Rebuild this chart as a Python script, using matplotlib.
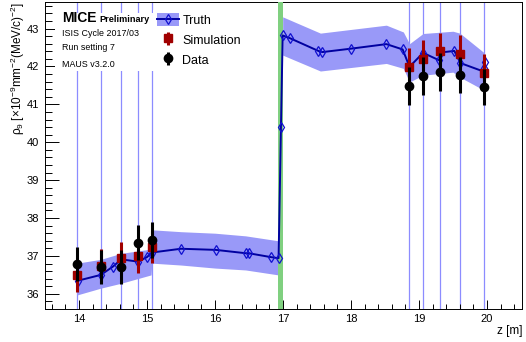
import matplotlib
matplotlib.use('Agg')
from matplotlib import pyplot as plt
from matplotlib.patches import Patch, Rectangle
from matplotlib.lines import Line2D
from matplotlib.ticker import MultipleLocator

plt.rcParams['font.family'] = ['Liberation Sans', 'DejaVu Sans']
plt.rcParams['mathtext.fontset'] = 'custom'
plt.rcParams['mathtext.rm'] = 'Liberation Sans'
plt.rcParams['mathtext.it'] = 'Liberation Sans:italic'

# truth line (MC truth at each virtual plane)
truth_z = [13.99, 14.32, 14.50, 14.62, 14.87, 15.00, 15.07, 15.50, 16.01, 16.46,
           16.50, 16.82, 16.935, 16.97, 16.995, 17.11, 17.52, 17.58, 18.00, 18.52,
           18.76, 18.86, 19.06, 19.30, 19.32, 19.52, 19.61, 19.96, 19.96, 19.97]
truth_rho = [36.35, 36.50, 36.72, 36.91, 36.85, 36.97, 37.09, 37.19, 37.16, 37.07,
             37.07, 36.97, 36.94, 40.40, 42.82, 42.74, 42.41, 42.38, 42.47, 42.59,
             42.45, 41.99, 42.36, 42.16, 42.37, 42.41, 42.09, 41.86, 41.97, 42.12]

# truth uncertainty band, upstream and downstream parts
band_up_z = [13.97, 14.32, 14.62, 15.06, 15.07, 15.50, 16.00, 16.45, 16.93]
band_up_lo = [35.97, 36.15, 36.28, 36.50, 36.81, 36.76, 36.68, 36.63, 36.50]
band_up_hi = [36.81, 36.91, 37.07, 37.18, 37.69, 37.64, 37.60, 37.53, 37.40]
band_dn_z = [16.995, 17.55, 18.52, 18.77, 18.86, 19.06, 19.50, 19.60, 19.96]
band_dn_lo = [42.30, 41.88, 42.08, 41.95, 41.59, 41.77, 41.85, 41.72, 41.37]
band_dn_hi = [43.31, 42.88, 43.09, 42.91, 42.60, 42.87, 42.93, 42.88, 42.36]

# tracker stations
station_z = [13.97, 14.32, 14.62, 14.87, 15.07, 18.86, 19.06, 19.31, 19.60, 19.96]

# measured and simulated values at the stations
data_rho = [36.78, 36.72, 36.72, 37.35, 37.42, 41.48, 41.74, 41.86, 41.77, 41.46]
data_err = [0.45, 0.45, 0.45, 0.47, 0.48, 0.50, 0.50, 0.50, 0.48, 0.48]
sim_rho = [36.50, 36.74, 36.94, 37.01, 37.23, 41.99, 42.19, 42.40, 42.34, 41.84]
sim_err = [0.45, 0.45, 0.42, 0.46, 0.42, 0.50, 0.50, 0.48, 0.50, 0.50]

absorber = (16.93, 16.995)

band_col = '#9999f8'
truth_col = '#0000a0'
sim_col = '#a00000'

fig = plt.figure(figsize=(5.26, 3.42), dpi=100)
ax = fig.add_axes([0.0856, 0.0965, 0.9068, 0.8975])

for z in station_z:
    ax.axvline(z, color='#8c8cff', lw=0.9, zorder=1)

ax.fill_between(band_up_z, band_up_lo, band_up_hi, color=band_col, lw=0, zorder=2)
ax.fill_between(band_dn_z, band_dn_lo, band_dn_hi, color=band_col, lw=0, zorder=2)
ax.axvspan(absorber[0], absorber[1], color='#80d080', lw=0, zorder=3)

ax.plot(truth_z, truth_rho, color=truth_col, lw=1.4, marker='d', ms=5.5,
        mfc='none', mec='#1010d0', mew=0.9, zorder=4)

sim = ax.errorbar(station_z, sim_rho, yerr=sim_err, fmt='s', color=sim_col,
                  ms=5.8, elinewidth=2.2, capsize=0, zorder=5)
dat = ax.errorbar(station_z, data_rho, yerr=data_err, fmt='o', color='black',
                  ms=6, elinewidth=2.2, capsize=0, zorder=6)

ax.set_xlim(13.5, 20.515)
ax.set_ylim(35.6, 43.7)

# ROOT-like axes
ax.xaxis.set_major_locator(MultipleLocator(1))
ax.xaxis.set_minor_locator(MultipleLocator(0.2))
ax.yaxis.set_major_locator(MultipleLocator(1))
ax.yaxis.set_minor_locator(MultipleLocator(0.2))
ax.tick_params(which='both', direction='in', top=False, right=False, width=0.7)
ax.tick_params(axis='x', which='major', length=6.5, labelsize=8, pad=3.5)
ax.tick_params(axis='x', which='minor', length=3.3)
ax.tick_params(axis='y', which='major', length=10, labelsize=8, pad=4.5)
ax.tick_params(axis='y', which='minor', length=5)
for s in ax.spines.values():
    s.set_linewidth(0.7)

ax.set_xlabel('z [m]', loc='right', fontsize=8.5, labelpad=1)
ax.set_ylabel('ρ$_{9}$ [×10$^{-9}$mm$^{-2}$(MeV/c)$^{-2}$]', loc='top', fontsize=8.5)
ax.yaxis.set_label_coords(-0.038, 1.0)

# white box behind the labels
ax.add_patch(Rectangle((0.02, 0.775), 0.21, 0.19, transform=ax.transAxes,
                       facecolor='white', edgecolor='none', zorder=7))
ax.text(0.0353, 0.9358, 'MICE', transform=ax.transAxes, fontsize=10,
        fontweight='bold', va='baseline', zorder=8)
ax.text(0.1132, 0.9358, 'Preliminary', transform=ax.transAxes, fontsize=6.6,
        fontweight='bold', va='baseline', zorder=8)
info = ['ISIS Cycle 2017/03', 'Run setting 7', 'MAUS v3.2.0']
for i, t in enumerate(info):
    ax.text(0.0353, [0.898, 0.851, 0.797][i], t, transform=ax.transAxes,
            fontsize=6.4, va='center', zorder=8)

truth_h = (Patch(facecolor=band_col, edgecolor='none'),
           Line2D([], [], color=truth_col, lw=1.4, marker='d', ms=5.5,
                  mfc='none', mec='#1010d0', mew=0.9))
leg = ax.legend([truth_h, sim, dat], ['Truth', 'Simulation', 'Data'],
                loc='upper left', bbox_to_anchor=(0.2264, 0.9756), borderaxespad=0,
                fontsize=9, frameon=True, fancybox=False, framealpha=1,
                edgecolor='none', handlelength=1.75, handleheight=1.2,
                handletextpad=0.3, labelspacing=0.5, borderpad=0.3)
leg.set_zorder(9)

fig.savefig('out.png', dpi=100)
